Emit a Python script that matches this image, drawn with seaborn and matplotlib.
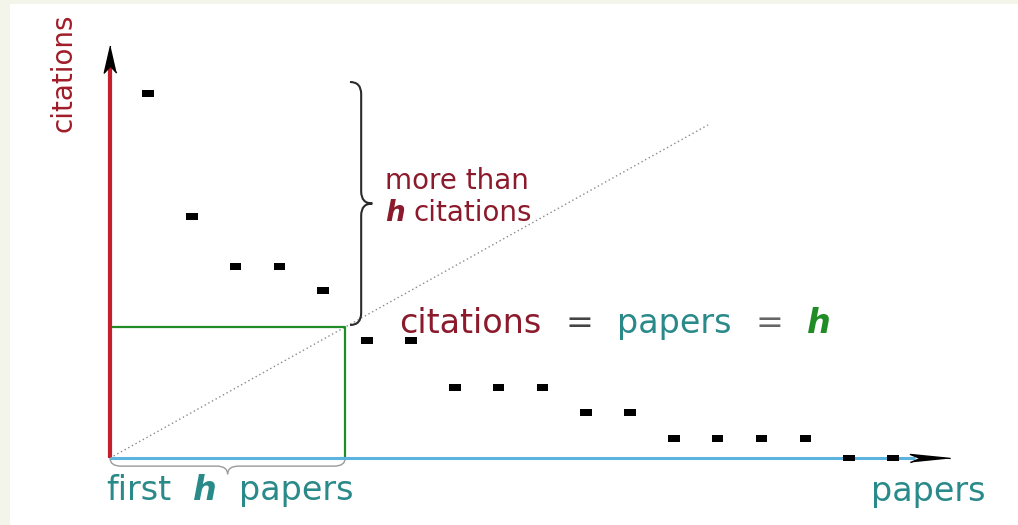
import numpy as np
import pandas as pd
import matplotlib.pyplot as plt
from matplotlib.path import Path
from matplotlib.patches import PathPatch, Rectangle
import seaborn as sns

# papers sorted by citation count, one dot per paper
paper_rank = [1, 2, 3, 4, 5, 6, 7, 8, 9, 10, 11, 12, 13, 14, 15, 16, 17, 18]
citations = [13.9, 9.2, 7.3, 7.3, 6.4, 4.5, 4.5, 2.7, 2.7, 2.7,
             1.75, 1.75, 0.76, 0.76, 0.76, 0.76, 0, 0]
h_index = 5
h_edge = 5.5      # right edge of the h square (between paper h and h+1)

df = pd.DataFrame({'rank': paper_rank, 'citations': citations})

# colours
RED = '#c41f2a'
DARKRED = '#8b1a2c'
TEAL = '#2a8a8a'
BLUE = '#5bb3de'
GREEN = '#1f8c26'

sns.set_style('white')
plt.rcParams['font.family'] = ['DejaVu Sans']

W, H = 1018, 525
ox_px, oy_px = 104.2, 458   # pixel of data point (0, 0)
ux, uy = 43.82, 26.2        # pixels per data unit


def px(x, y):
    # pixel position -> data position
    return (x - ox_px) / ux, (oy_px - y) / uy


fig = plt.figure(figsize=(W / 100, H / 100), dpi=100)
fig.patch.set_facecolor('#f3f4ea')
fig.add_artist(Rectangle((10 / W, 0), 1, 1 - 4 / H, transform=fig.transFigure,
                         facecolor='white', edgecolor='none', zorder=-5))

ax = fig.add_axes([0, 0, 1, 1])
ax.set_xlim(-ox_px / ux, (W - ox_px) / ux)
ax.set_ylim(-(H - oy_px) / uy, oy_px / uy)
ax.axis('off')

origin_x = px(110, 0)[0]

# axes with arrow heads
ax.plot([origin_x, origin_x], [0, px(0, 66)[1]], color=RED, lw=3, solid_capstyle='butt', zorder=3)
ax.plot([origin_x, px(915, 0)[0]], [0, 0], color=BLUE, lw=2.2, solid_capstyle='butt', zorder=3)
up_head = [(0, 1), (-0.46, -1), (0, -0.5), (0.46, -1)]
right_head = [(1, 0), (-1, 0.2), (-0.5, 0), (-1, -0.2)]
ax.plot([origin_x], [px(0, 58.5)[1]], marker=up_head, ms=19.5, color='black', ls='none', zorder=6)
ax.plot([px(930, 0)[0]], [0], marker=right_head, ms=29, color='black', ls='none', zorder=6)

# h square and diagonal
ax.plot([origin_x, h_edge, h_edge], [h_index, h_index, 0], color=GREEN, lw=1.6, zorder=2)
slope = h_index / (h_edge - origin_x)
x_end = px(708, 0)[0]
ax.plot([origin_x, x_end], [0, slope * (x_end - origin_x)], color='#8a8a8a', lw=1,
        ls=(0, (1, 2)), zorder=1)


def brace(a0, a1, b, d, r, vertical, **kw):
    am = (a0 + a1) / 2
    s = b + d / 2
    pts = [(a0, b), (a0, s), (a0 + r, s), (am - r, s), (am, s), (am, b + d),
           (am, s), (am + r, s), (a1 - r, s), (a1, s), (a1, b)]
    codes = [Path.MOVETO, Path.CURVE3, Path.CURVE3, Path.LINETO, Path.CURVE3, Path.CURVE3,
             Path.CURVE3, Path.CURVE3, Path.LINETO, Path.CURVE3, Path.CURVE3]
    if vertical:
        pts = [(q, p) for p, q in pts]
    ax.add_patch(PathPatch(Path(pts, codes), fill=False, **kw))


brace(px(0, 325)[1], px(0, 82)[1], px(350, 0)[0], 0.51, 0.46, True,
      edgecolor='#2b2b2b', lw=1.5, zorder=2)
brace(origin_x, h_edge, 0, -0.62, 0.25, False, edgecolor='#9a9a9a', lw=1, zorder=2)

# papers
rect = [(-1, -0.6), (1, -0.6), (1, 0.6), (-1, 0.6)]
sns.scatterplot(data=df, x='rank', y='citations', marker=rect, s=70, color='black',
                edgecolor='none', ax=ax, zorder=5, legend=False)
ax.set_xlabel('')
ax.set_ylabel('')

renderer = fig.canvas.get_renderer()


def phrase(pieces, x, y, size, gap, anchor='left'):
    # lay out coloured words on one baseline; x, y in pixels
    texts = []
    for s, c, emph in pieces:
        kw = dict(fontweight='bold', fontstyle='italic') if emph else {}
        texts.append(ax.text(0, px(0, y)[1], s, color=c, fontsize=size, va='baseline', **kw))
    widths = [t.get_window_extent(renderer).width for t in texts]
    total = sum(widths) + gap * (len(texts) - 1)
    start = x - total / 2 if anchor == 'center' else x
    for t, w in zip(texts, widths):
        t.set_x(px(start, 0)[0])
        start += w + gap


ax.text(*px(64, 73), 'citations', rotation=90, color='#a01c28', fontsize=20,
        ha='center', va='center')

phrase([('more than', DARKRED, False)], 385, 189, 20, 0)
phrase([('h', DARKRED, True), ('citations', DARKRED, False)], 385, 221, 20, 9)

phrase([('citations', DARKRED, False), ('=', '#444444', False), ('papers', TEAL, False),
        ('=', '#666666', False), ('h', GREEN, True)], 615, 333, 24, 24, 'center')

phrase([('first', TEAL, False), ('h', TEAL, True), ('papers', TEAL, False)],
       230, 500, 24, 22, 'center')
phrase([('papers', TEAL, False)], 928, 501, 24, 0, 'center')

fig.savefig('out.png', dpi=100, facecolor=fig.get_facecolor())
